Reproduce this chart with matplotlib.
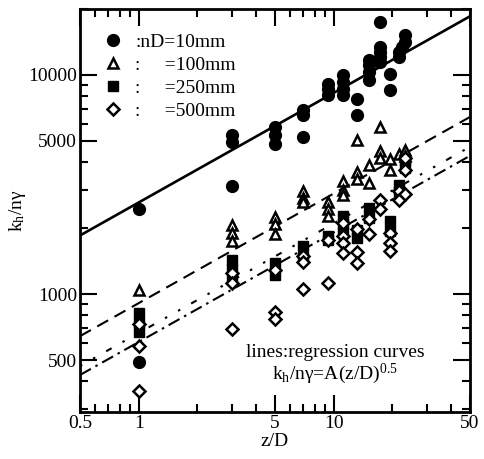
import numpy as np
import matplotlib
matplotlib.use("Agg")
import matplotlib.pyplot as plt
from matplotlib.lines import Line2D
from matplotlib.ticker import LogLocator, FixedLocator, NullFormatter, FixedFormatter

plt.rcParams['font.family'] = ['Liberation Serif', 'DejaVu Serif']
plt.rcParams['mathtext.fontset'] = 'custom'
plt.rcParams['mathtext.rm'] = 'Liberation Serif'
plt.rcParams['mathtext.it'] = 'Liberation Serif:italic'

# ---- data ----
c10_x = [1, 1, 3, 3, 3, 5, 5, 5, 7, 7, 7, 9.3, 9.3, 9.3, 11.2, 11.2, 11.2, 11.2,
         13.2, 13.2, 15.2, 15.2, 15.2, 15.2, 17.3, 17.3, 17.3, 17.3, 17.3,
         19.4, 19.4, 21.5, 21.5, 22.3, 23.2, 23.2]
c10_y = [2450, 490, 5300, 4950, 3100, 5800, 5350, 4850, 6900, 6550, 5200, 9100, 8650, 8100,
         10000, 9300, 8650, 8100, 7750, 6600, 11700, 11100, 10300, 9500,
         17500, 13400, 12700, 12100, 11500, 10100, 8500, 12100, 12750, 13440, 14170, 15250]

t100_x = [1, 3, 3, 3, 5, 5, 5, 7, 7, 7, 9.3, 9.3, 9.3, 11.2, 11.2, 11.2,
          13.2, 13.2, 13.2, 15.2, 15.2, 17.3, 17.3, 17.3, 19.4, 19.4, 21.5, 23.2, 23.2]
t100_y = [1040, 2075, 1905, 1750, 2250, 2080, 1890, 2960, 2760, 2620, 2620, 2440, 2280,
          3300, 3000, 2820, 5040, 3590, 3340, 3870, 3230, 5770, 4500, 4200, 4120, 3700,
          4340, 4570, 4250]

s250_x = [1, 1, 1, 3, 3, 3, 5, 5, 7, 7, 9.3, 9.3, 11.2, 11.2, 11.2, 13.2, 13.2,
          15.2, 15.2, 19.4, 19.4, 21.5, 21.5, 23.2, 23.2]
s250_y = [820, 740, 670, 1430, 1300, 1180, 1390, 1220, 1660, 1480, 1850, 1760,
          2280, 2100, 1920, 1970, 1810, 2480, 2230, 2150, 1950, 3160, 2950, 4100, 3750]

d500_x = [1, 1, 1, 3, 3, 3, 5, 5, 5, 7, 7, 7, 9.3, 9.3, 11.2, 11.2, 11.2, 11.2,
          13.2, 13.2, 13.2, 15.2, 15.2, 17.3, 17.3, 19.4, 19.4, 19.4, 21.5, 21.5,
          23.2, 23.2, 23.2]
d500_y = [730, 580, 360, 1250, 1120, 690, 1290, 830, 770, 1500, 1400, 1060, 1760, 1120,
          2120, 1850, 1720, 1540, 1990, 1550, 1390, 2200, 1880, 2700, 2450,
          1910, 1715, 1570, 2950, 2700, 4200, 3700, 2850]

# regression coefficients  k/ny = A (z/D)^0.5
A_coef = [2620, 910, 665, 605]
legend_labels = [":nD=10mm", ":     =100mm", ":     =250mm", ":     =500mm"]
x_ticks = [0.5, 1, 5, 10, 50]
y_ticks = [500, 1000, 5000, 10000]

fig = plt.figure(figsize=(4.85, 4.59), dpi=100)
ax = fig.add_axes([80/485, 1-412/459, 390/485, 403/459])

ax.set_xscale('log')
ax.set_yscale('log')
ax.set_xlim(0.5, 50)
ax.set_ylim(290, 20000)

xx = np.logspace(np.log10(0.5), np.log10(50), 200)
styles = ['-', (0, (6, 3.5)), (0, (1.2, 6, 1.2, 6, 3, 6)), (0, (6, 2.5, 1.2, 2.5))]
for A, ls in zip(A_coef, styles):
    ax.plot(xx, A*np.sqrt(xx), color='black', lw=1.9 if ls == '-' else 1.5, linestyle=ls, zorder=2)

ms = 8.5
ax.plot(c10_x, c10_y, 'o', color='black', ms=ms, ls='none', zorder=3)
ax.plot(t100_x, t100_y, '^', mfc='white', mec='black', mew=1.8, ms=7.5, ls='none', zorder=3)
ax.plot(s250_x, s250_y, 's', color='black', ms=7.5, ls='none', zorder=3)
ax.plot(d500_x, d500_y, 'D', mfc='white', mec='black', mew=1.8, ms=6.5, ls='none', zorder=4)

handles = [
    Line2D([], [], marker='o', color='black', ms=ms, ls='none'),
    Line2D([], [], marker='^', mfc='white', mec='black', mew=1.8, ms=7.5, ls='none'),
    Line2D([], [], marker='s', color='black', ms=7.5, ls='none'),
    Line2D([], [], marker='D', mfc='white', mec='black', mew=1.8, ms=6.5, ls='none'),
]
ax.legend(handles, legend_labels, loc='upper left', bbox_to_anchor=(0.035, 0.96),
          frameon=False, fontsize=14, handletextpad=0.55, labelspacing=0.28,
          borderaxespad=0, handlelength=1.2)

ax.text(0.655, 0.148, "lines:regression curves", transform=ax.transAxes,
        ha='center', va='center', fontsize=14)
ax.text(0.655, 0.095, r"k$_\mathrm{h}$/n$\mathrm{\gamma}$=A(z/D)$^{\mathrm{0.5}}$",
        transform=ax.transAxes, ha='center', va='center', fontsize=14)

ax.xaxis.set_major_locator(FixedLocator(x_ticks))
ax.xaxis.set_major_formatter(FixedFormatter([str(v) for v in x_ticks]))
ax.xaxis.set_minor_locator(LogLocator(base=10, subs=np.arange(2, 10)))
ax.xaxis.set_minor_formatter(NullFormatter())
ax.yaxis.set_major_locator(FixedLocator(y_ticks))
ax.yaxis.set_major_formatter(FixedFormatter([str(v) for v in y_ticks]))
ax.yaxis.set_minor_locator(LogLocator(base=10, subs=np.arange(2, 10)))
ax.yaxis.set_minor_formatter(NullFormatter())

ax.tick_params(which='both', direction='in', top=True, right=True, labelsize=14, width=1.5, pad=2)
ax.tick_params(which='major', length=12)
ax.tick_params(which='minor', length=6)
for s in ax.spines.values():
    s.set_linewidth(2)

ax.set_xlabel("z/D", fontsize=14, labelpad=1)
ax.set_ylabel(r"k$_\mathrm{h}$/n$\mathrm{\gamma}$", fontsize=14, labelpad=0)

fig.savefig("out.png", dpi=100)
